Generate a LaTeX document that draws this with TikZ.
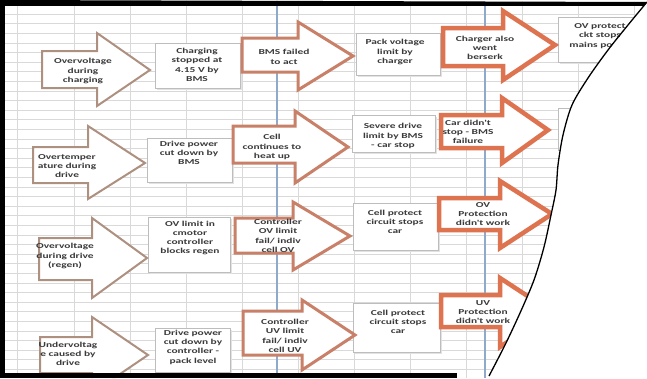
\documentclass[tikz,border=0pt]{standalone}
\usepackage{fontspec}
\newfontfamily\lblfont{Carlito}[FakeStretch=1.5]
\definecolor{gridc}{HTML}{D9D9D9}
\definecolor{bluec}{HTML}{8EA9C9}
\definecolor{tanc}{HTML}{AE9080}
\definecolor{salc}{HTML}{C98068}
\definecolor{orac}{HTML}{DE7350}
\definecolor{boxc}{HTML}{BDBDBD}
\definecolor{shc}{HTML}{E2E2E2}
\definecolor{txtc}{HTML}{3A3A3A}
\tikzset{
  lbl/.style={font=\lblfont\bfseries\fontsize{7.6}{9.3}\selectfont, align=center, text=txtc, inner sep=0pt},
  tanarrow/.style={draw=tanc, line width=2pt, fill=white},
  salarrow/.style={draw=salc, line width=3pt, fill=white},
  oraarrow/.style={draw=orac, line width=4.5pt, fill=white},
  cellbox/.style={draw=boxc, line width=0.8pt, fill=white},
  gridline/.style={draw=gridc, line width=0.6pt},
  blueline/.style={draw=bluec, line width=1.4pt}
}
% block arrow: style, x0, body top, body bottom, head x, head top, head bottom, tip x, tip y
\newcommand\blkarrow[9]{%
  \draw[#1] (#2,#3) -- (#5,#3) -- (#5,#6) -- (#8,#9) -- (#5,#7) -- (#5,#4) -- (#2,#4) -- cycle;}
\newcommand\cellrect[4]{%
  \fill[shc] (#1+1.5,#2+1.5) rectangle (#3+1.5,#4+1.5);
  \draw[cellbox] (#1,#2) rectangle (#3,#4);}
\begin{document}
\begin{tikzpicture}[x=1pt,y=-1pt]
\useasboundingbox (0,0) rectangle (647,378);
\fill[white] (0,0) rectangle (647,378);
\begin{scope}
\clip (0,0) -- plot[smooth] coordinates {(647,2) (628,25) (608,50) (588,78) (572,105) (563,135) (558,165) (556,190) (551,215) (544,247) (534,280) (520,313) (505,345) (489,376)} -- (489,378) -- (0,378) -- cycle;
% grid
\foreach \r in {0,...,38} { \draw[gridline] (0,14+9.6*\r) -- (647,14+9.6*\r); }
\foreach \c in {17,74,130,186,242,298,354,410,466,522,578,634} { \draw[gridline] (\c,0) -- (\c,378); }
\draw[blueline] (277,0) -- (277,378);
\draw[blueline] (485,0) -- (485,378);
% boxes
\cellrect{155}{43}{240}{88}
\cellrect{356}{33}{440}{75}
\cellrect{558}{17}{643}{62}
\cellrect{147}{138}{232}{182}
\cellrect{352}{115}{435}{152}
\cellrect{558}{108}{640}{150}
\cellrect{148}{217}{230}{272}
\cellrect{353}{203}{438}{250}
\cellrect{155}{328}{230}{372}
\cellrect{353}{303}{440}{352}
% arrows
\blkarrow{tanarrow}{42}{51}{88}{97}{33}{106}{150}{70}
\blkarrow{salarrow}{242}{38}{72}{298}{22}{90}{353}{56}
\blkarrow{oraarrow}{443}{28}{66}{503}{11}{80}{555}{45}
\blkarrow{tanarrow}{33}{147}{183}{88}{126}{199}{145}{163}
\blkarrow{salarrow}{233}{126}{163}{295}{111}{183}{348}{147}
\blkarrow{oraarrow}{441}{115}{148}{502}{98}{163}{548}{130}
\blkarrow{tanarrow}{39}{238}{280}{92}{218}{298}{147}{258}
\blkarrow{salarrow}{235}{218}{253}{293}{202}{270}{350}{236}
\blkarrow{oraarrow}{439}{198}{230}{500}{181}{248}{552}{214}
\blkarrow{tanarrow}{40}{337}{373}{92}{317}{393}{148}{355}
\blkarrow{salarrow}{243}{311}{355}{302}{300}{370}{355}{335}
\blkarrow{oraarrow}{441}{295}{327}{500}{278}{347}{552}{312}
% texts
\node[lbl] (t11) at (83,71) {Overvoltage\\during\\charging};
\node[lbl] (b11) at (197,65) {Charging\\stopped at\\4.15 V by\\BMS};
\node[lbl] (t12) at (284,57) {BMS failed\\to act};
\node[lbl] (b12) at (395,52) {Pack voltage\\limit by\\charger};
\node[lbl] (t13) at (485,48) {Charger also\\went\\berserk};
\node[lbl] (b13) at (600,36) {OV protect\\ckt stops\\mains power};
\node[lbl] (t21) at (67,166) {Overtemper\\ature during\\drive};
\node[lbl] (b21) at (189,153) {Drive power\\cut down by\\BMS};
\node[lbl] (t22) at (272,147) {Cell\\continues to\\heat up};
\node[lbl] (b22) at (393,136) {Severe drive\\limit by BMS\\- car stop};
\node[lbl] (t23) at (468,132) {Car didn't\\stop - BMS\\failure};
\node[lbl] (t31) at (65,256) {Overvoltage\\during drive\\(regen)};
\node[lbl] (b31) at (190,238) {OV limit in\\cmotor\\controller\\blocks regen};
\node[lbl] (t32) at (278,236) {Controller\\OV limit\\fail/ indiv\\cell OV};
\node[lbl] (b32) at (395,222) {Cell protect\\circuit stops\\car};
\node[lbl] (t33) at (483,214) {OV\\Protection\\didn't work};
\node[lbl] (t41) at (68,354) {Undervoltag\\e caused by\\drive};
\node[lbl] (b41) at (193,347) {Drive power\\cut down by\\controller -\\pack level};
\node[lbl] (t42) at (285,336) {Controller\\UV limit\\fail/ indiv\\cell UV};
\node[lbl] (b42) at (398,322) {Cell protect\\circuit stops\\car};
\node[lbl] (t43) at (483,312) {UV\\Protection\\didn't work};
% frame bars
\fill[black] (0,0) rectangle (647,5.5);
\fill[black] (0,0) rectangle (4.5,378);
\fill[black] (0,372.5) rectangle (457,378);
\end{scope}
\draw[black, line width=1.3pt] plot[smooth] coordinates {(647,2) (628,25) (608,50) (588,78) (572,105) (563,135) (558,165) (556,190) (551,215) (544,247) (534,280) (520,313) (505,345) (489,376)};
\end{tikzpicture}
\end{document}
